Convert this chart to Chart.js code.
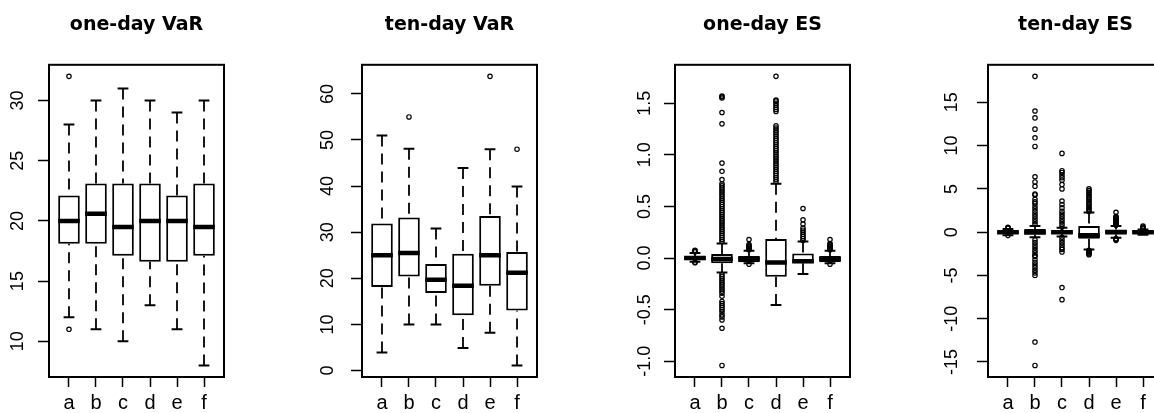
<!DOCTYPE html>
<html>
<head>
<meta charset="utf-8">
<script src="https://cdn.jsdelivr.net/npm/chart.js"></script>
<style>
  html, body { margin: 0; padding: 0; background: #fff; overflow: hidden; }
  #wrap { position: relative; width: 1154px; height: 413px; overflow: hidden; }
  .panel { position: absolute; top: 0; width: 313px; height: 413px; }
</style>
</head>
<body>
<div id="wrap">
  <div class="panel" style="left:0px"><canvas id="varOne"></canvas></div>
  <div class="panel" style="left:313px"><canvas id="varTen"></canvas></div>
  <div class="panel" style="left:626px"><canvas id="esOne"></canvas></div>
  <div class="panel" style="left:939px"><canvas id="esTen"></canvas></div>
</div>
<script>
const categories = ['a', 'b', 'c', 'd', 'e', 'f'];

// one-day VaR
const varOneLow  = [12, 11, 10, 13, 11, 8];
const varOneQ1   = [18.1, 18.1, 17.1, 16.6, 16.6, 17.1];
const varOneMed  = [20, 20.6, 19.5, 20, 20, 19.5];
const varOneQ3   = [22.1, 23.1, 23.1, 23.1, 22.1, 23.1];
const varOneHigh = [28, 30, 31, 30, 29, 30];
const varOneOut  = [[32, 11], [], [], [], [], []];
const varOneTicks = [10, 15, 20, 25, 30];

// ten-day VaR
const varTenLow  = [3.9, 10, 10, 4.9, 8.2, 1.1];
const varTenQ1   = [18.1, 20.4, 16.8, 12, 18.4, 13];
const varTenMed  = [25, 25.5, 19.7, 18.4, 25, 21.2];
const varTenQ3   = [31.9, 33.2, 23.1, 25.3, 33.5, 25.7];
const varTenHigh = [51, 48.1, 30.8, 43.9, 48, 39.9];
const varTenOut  = [[], [55], [], [], [63.8], [48]];
const varTenTicks = [0, 10, 20, 30, 40, 50, 60];

// one-day ES
const esOneLow  = [-0.035, -0.14, -0.05, -0.455, -0.155, -0.05];
const esOneQ1   = [-0.02, -0.05, -0.04, -0.18, -0.05, -0.04];
const esOneMed  = [0, -0.01, -0.01, -0.043, -0.03, -0.01];
const esOneQ3   = [0.02, 0.04, 0.02, 0.185, 0.045, 0.02];
const esOneHigh = [0.05, 0.14, 0.07, 0.72, 0.16, 0.07];
const esOneOut  = [
  [0.06, 0.065, 0.07, 0.075, -0.04, -0.045],
  [0.16, 0.18, 0.2, 0.22, 0.24, 0.26, 0.28, 0.3, 0.32, 0.34, 0.36, 0.38, 0.4, 0.42, 0.44,
   0.46, 0.48, 0.5, 0.52, 0.54, 0.56, 0.58, 0.6, 0.62, 0.64, 0.66, 0.68, 0.7, 0.72,
   0.76, 0.84, 0.92, 1.3, 1.41, 1.55, 1.56, 1.57,
   -0.16, -0.18, -0.2, -0.22, -0.24, -0.26, -0.28, -0.3, -0.32, -0.34, -0.37,
   -0.42, -0.44, -0.46, -0.48, -0.5, -0.52, -0.55, -0.57, -0.6, -0.68, -1.04],
  [0.08, 0.09, 0.1, 0.11, 0.12, 0.13, 0.18, -0.06],
  [0.74, 0.76, 0.78, 0.8, 0.82, 0.84, 0.86, 0.88, 0.9, 0.92, 0.94, 0.96, 0.98, 1.0,
   1.02, 1.04, 1.06, 1.08, 1.1, 1.12, 1.14, 1.16, 1.18, 1.2, 1.22, 1.24, 1.26, 1.28,
   1.42, 1.44, 1.46, 1.48, 1.5, 1.52, 1.53, 1.76],
  [0.17, 0.19, 0.21, 0.23, 0.25, 0.27, 0.29, 0.33, 0.37, 0.48],
  [0.08, 0.09, 0.1, 0.11, 0.12, 0.13, 0.14, 0.18, -0.06]
];
const esOneTicks = [-1, -0.5, 0, 0.5, 1, 1.5];

// ten-day ES
const esTenLow  = [-0.35, -0.6, -0.5, -2.0, -0.66, -0.3];
const esTenQ1   = [-0.2, -0.3, -0.2, -0.75, -0.25, -0.15];
const esTenMed  = [0, 0, 0, -0.35, 0, 0];
const esTenQ3   = [0.2, 0.35, 0.2, 0.7, 0.3, 0.15];
const esTenHigh = [0.35, 0.7, 0.5, 2.27, 0.7, 0.3];
const esTenOut  = [
  [0.45, 0.5, 0.55, -0.4],
  [0.9, 1.2, 1.5, 1.8, 2.1, 2.4, 2.7, 3.0, 3.3, 3.5, 3.8, 4.3, 4.4, 5.3, 5.8, 6.4,
   9.9, 10.9, 11.9, 13.2, 14.0, 18.0,
   -0.9, -1.2, -1.5, -1.8, -2.1, -2.4, -2.7, -2.8, -3.2, -3.5, -3.8, -4.1, -4.4, -4.7, -5.0,
   -12.7, -15.4],
  [0.6, 0.9, 1.2, 1.5, 1.8, 2.1, 2.4, 2.8, 3.2, 3.6, 5.0, 5.5, 6.0, 6.3, 6.6, 6.9, 7.1, 9.1,
   -0.6, -0.9, -1.2, -1.5, -1.8, -2.0, -2.3, -6.4, -7.8],
  [2.4, 2.6, 2.8, 3.0, 3.2, 3.4, 3.6, 3.8, 4.0, 4.2, 4.4, 4.6, 4.8, 5.0,
   -2.1, -2.2, -2.3, -2.4, -2.5, -2.6],
  [0.8, 0.9, 1.0, 1.1, 1.2, 1.3, 1.4, 1.5, 1.6, 1.7, 1.8, 2.3, -0.75, -0.85, -0.95],
  [0.4, 0.5, 0.6, 0.7]
];
const esTenTicks = [-15, -10, -5, 0, 5, 10, 15];

// full box around the plot region, like R's box()
const framePlugin = {
  id: 'frame',
  afterDatasetsDraw(chart) {
    const { ctx, chartArea: a } = chart;
    ctx.save();
    ctx.strokeStyle = '#000';
    ctx.lineWidth = 2;
    ctx.strokeRect(a.left, a.top, a.right - a.left, a.bottom - a.top);
    ctx.restore();
  }
};

function drawPanel(id, title, low, q1, med, q3, high, outs, ticks, labelPad, digits) {
  const all = low.concat(high, outs.flat());
  const lo = Math.min(...all);
  const hi = Math.max(...all);
  const ext = (hi - lo) * 0.04;

  const boxData = [];
  const medData = [];
  const whiskData = [];
  const capData = [];
  const outData = [];
  categories.forEach((c, i) => {
    const x = i + 1;
    boxData.push({ x: x, y: [q1[i], q3[i]] });
    medData.push({ x: x - 0.4, y: med[i] }, { x: x + 0.4, y: med[i] }, { x: x + 0.5, y: null });
    whiskData.push({ x: x, y: high[i] }, { x: x, y: q3[i] }, { x: x, y: null },
                   { x: x, y: low[i] }, { x: x, y: q1[i] }, { x: x, y: null });
    capData.push({ x: x - 0.2, y: high[i] }, { x: x + 0.2, y: high[i] }, { x: x + 0.3, y: null },
                 { x: x - 0.2, y: low[i] }, { x: x + 0.2, y: low[i] }, { x: x + 0.3, y: null });
    outs[i].forEach(v => outData.push({ x: x, y: v }));
  });

  new Chart(document.getElementById(id), {
    type: 'bar',
    data: {
      datasets: [
        {
          type: 'scatter',
          data: outData,
          pointStyle: 'circle',
          pointRadius: 2.2,
          pointBorderWidth: 1.2,
          borderColor: '#000',
          backgroundColor: 'rgba(0,0,0,0)',
          order: 0
        },
        {
          type: 'line',
          data: medData,
          borderColor: '#000',
          borderWidth: 4.5,
          borderCapStyle: 'butt',
          pointRadius: 0,
          spanGaps: false,
          order: 1
        },
        {
          type: 'bar',
          data: boxData,
          backgroundColor: '#fff',
          borderColor: '#000',
          borderWidth: 2,
          borderSkipped: false,
          barPercentage: 0.8,
          categoryPercentage: 1,
          order: 2
        },
        {
          type: 'line',
          data: capData,
          borderColor: '#000',
          borderWidth: 2,
          borderCapStyle: 'butt',
          pointRadius: 0,
          spanGaps: false,
          order: 3
        },
        {
          type: 'line',
          data: whiskData,
          borderColor: '#000',
          borderWidth: 1.8,
          borderDash: [11, 7],
          borderCapStyle: 'butt',
          pointRadius: 0,
          spanGaps: false,
          order: 4
        }
      ]
    },
    options: {
      responsive: true,
      maintainAspectRatio: false,
      animation: false,
      events: [],
      layout: { padding: { left: 0, right: 89, top: 0, bottom: 0 } },
      scales: {
        x: {
          type: 'linear',
          min: 0.26,
          max: 6.74,
          offset: false,
          bounds: 'data',
          afterBuildTicks: a => { a.ticks = categories.map((c, i) => ({ value: i + 1 })); },
          afterFit: a => { a.height = 36; },
          grid: { drawOnChartArea: false, offset: false, tickLength: 10, tickColor: '#000', tickWidth: 1.5 },
          border: { display: false },
          ticks: {
            autoSkip: false,
            minRotation: 0,
            maxRotation: 0,
            padding: 4,
            color: '#000',
            font: { family: 'Liberation Sans', size: 20 },
            callback: v => categories[Math.round(v) - 1]
          }
        },
        y: {
          type: 'linear',
          min: lo - ext,
          max: hi + ext,
          bounds: 'data',
          afterBuildTicks: a => { a.ticks = ticks.map(v => ({ value: v })); },
          afterFit: a => { a.width = 49; },
          grid: { drawOnChartArea: false, tickLength: 11, tickColor: '#000', tickWidth: 1.5 },
          border: { display: false },
          ticks: {
            autoSkip: false,
            minRotation: 90,
            maxRotation: 90,
            crossAlign: 'center',
            padding: labelPad,
            color: '#000',
            font: { family: 'Liberation Sans', size: 18 },
            callback: v => v.toFixed(digits)
          }
        }
      },
      plugins: {
        legend: { display: false },
        tooltip: { enabled: false },
        title: {
          display: true,
          text: title,
          fullSize: false,
          color: '#000',
          font: { family: 'DejaVu Sans', size: 19, weight: 'bold' },
          padding: { top: 14, bottom: 28 }
        }
      }
    },
    plugins: [framePlugin]
  });
}

drawPanel('varOne', 'one-day VaR', varOneLow, varOneQ1, varOneMed, varOneQ3, varOneHigh, varOneOut, varOneTicks, 10.3, 0);
drawPanel('varTen', 'ten-day VaR', varTenLow, varTenQ1, varTenMed, varTenQ3, varTenHigh, varTenOut, varTenTicks, 13, 0);
drawPanel('esOne', 'one-day ES', esOneLow, esOneQ1, esOneMed, esOneQ3, esOneHigh, esOneOut, esOneTicks, 3.5, 1);
drawPanel('esTen', 'ten-day ES', esTenLow, esTenQ1, esTenMed, esTenQ3, esTenHigh, esTenOut, esTenTicks, 11.6, 0);
</script>
</body>
</html>
